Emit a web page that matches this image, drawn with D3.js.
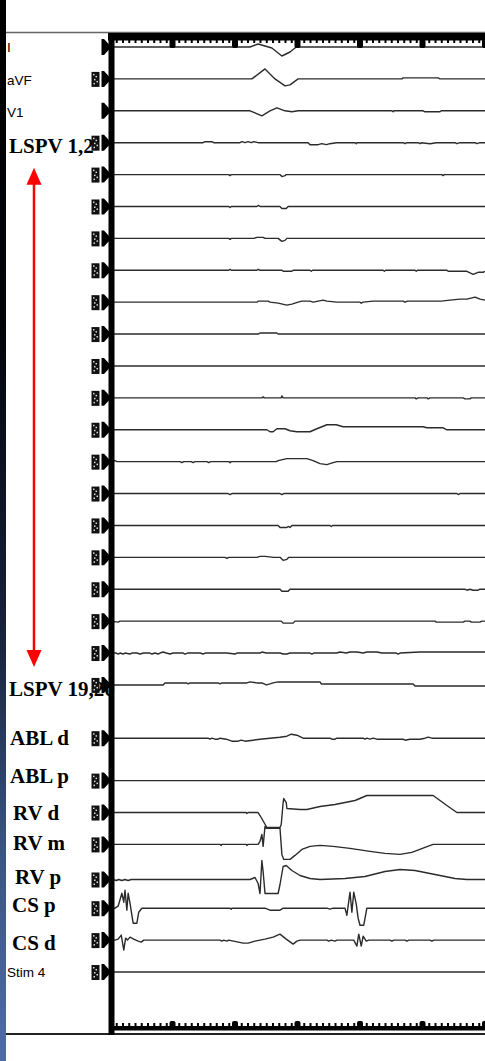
<!DOCTYPE html>
<html>
<head>
<meta charset="utf-8">
<script src="https://cdn.jsdelivr.net/npm/d3@7"></script>
<style>
  body { margin: 0; background: #fff; }
  svg { display: block; }
</style>
</head>
<body>
<div id="chart"></div>
<script>
// ---- data: each trace is [time ms, deflection] pairs ----
const traceI = [[0,0],[224,0],[237,3],[248,1],[259,-1],[275,-9],[288,-5],[298,0],[600,0]];
const traceAVF = [[0,0],[227,0],[248,10],[264,0],[280,-7],[288,-6],[301,0],[467,0],[469,1],[525,1],[528,0],[600,0]];
const traceV1 = [[0,0],[224,0],[243,-5],[256,0],[267,3],[280,0],[291,-1],[301,0],[451,0],[453,-1],[454,0],[501,0],[504,-1],[528,-1],[530,0],[600,0]];

const lspv01 = [[0,0],[149,0],[152,1],[163,1],[166,0],[208,0],[211,1],[216,0],[221,1],[226,0],[230,1],[237,0],[317,0],[320,-2],[333,-2],[339,-1],[346,-2],[352,-1],[362,0],[392,0],[394,-1],[395,0],[469,0],[472,-1],[475,0],[493,0],[496,-1],[498,0],[512,-1],[522,0],[552,0],[555,-1],[560,0],[584,0],[587,-1],[592,0],[600,0]];
const lspv02 = [[0,0],[190,0],[192,-1],[194,0],[272,0],[275,-2],[280,-1],[282,0],[531,0],[533,-1],[535,0],[600,0]];
const lspv03 = [[0,0],[190,0],[192,-1],[194,0],[235,0],[238,1],[240,0],[272,0],[275,-2],[282,-2],[285,0],[600,0]];
const lspv04 = [[0,0],[190,0],[192,-1],[194,0],[230,0],[235,1],[245,1],[248,0],[269,0],[275,-3],[280,-2],[283,0],[600,0]];
const lspv05 = [[0,0],[190,0],[192,1],[194,0],[235,0],[237,1],[240,0],[275,0],[277,-1],[291,-1],[293,0],[320,0],[322,-1],[324,0],[437,0],[439,-1],[441,0],[488,0],[490,-1],[492,0],[539,0],[541,-1],[571,-1],[581,-4],[589,-2],[597,-2],[600,-1]];
const lspv06 = [[0,0],[200,0],[235,0],[237,1],[253,1],[256,0],[269,-1],[283,-3],[291,-2],[301,0],[307,1],[320,1],[325,0],[333,1],[341,2],[347,1],[363,0],[400,0],[402,-1],[405,0],[421,1],[469,1],[472,0],[476,1],[507,1],[530,1],[544,2],[560,3],[571,3],[584,5],[592,3],[600,2]];
const lspv07 = [[0,0],[237,0],[240,1],[267,1],[269,0],[600,0]];
const lspv08 = [[0,0],[600,0]];
const lspv09 = [[0,0],[243,0],[245,1],[247,0],[274,0],[275,2],[277,0],[488,0],[490,-1],[493,0],[507,0],[509,-1],[512,0],[565,0],[568,-1],[576,-1],[578,0],[600,0]];
const lspv10 = [[0,0],[251,0],[256,-2],[261,-2],[267,1],[280,1],[288,-1],[299,-2],[320,-2],[331,1],[347,5],[362,5],[373,3],[384,3],[501,3],[507,2],[533,2],[539,0],[600,0]];
const lspv11 = [[0,0],[8,1],[11,0],[112,0],[115,-1],[118,0],[130,0],[133,-1],[136,0],[155,0],[158,-1],[161,0],[190,0],[192,-1],[194,0],[266,0],[269,1],[283,3],[315,3],[325,1],[336,-2],[347,-3],[357,-1],[363,0],[600,0]];
const lspv12 = [[0,0],[189,0],[192,-1],[195,0],[272,0],[275,-1],[278,0],[555,0],[557,-1],[560,0],[600,0]];
const lspv13 = [[0,0],[269,0],[272,-2],[283,-2],[285,-1],[288,-2],[291,0],[352,0],[354,-1],[356,0],[600,0]];
const lspv14 = [[0,0],[184,0],[187,-1],[190,0],[235,0],[240,1],[248,1],[262,0],[272,0],[277,-3],[283,-2],[286,0],[600,0]];
const lspv15 = [[0,0],[272,0],[275,-2],[285,-2],[288,0],[568,0],[571,-1],[576,0],[581,-1],[589,-1],[592,0],[600,0]];
const lspv16 = [[0,0],[13,-1],[16,0],[274,0],[277,-2],[293,-2],[296,0],[520,0],[522,-1],[565,-1],[568,0],[576,0],[578,-1],[592,-1],[595,0],[600,0]];
const lspv17 = [[0,0],[10,0],[13,-1],[16,0],[21,-1],[24,0],[32,-1],[35,0],[43,0],[48,-1],[54,0],[64,0],[67,-1],[72,0],[77,-1],[80,0],[85,1],[90,0],[96,-1],[101,0],[117,0],[120,-1],[124,0],[144,0],[149,-1],[152,0],[187,0],[200,-1],[203,0],[240,0],[243,1],[250,0],[272,0],[277,-1],[283,-1],[288,0],[320,0],[323,-1],[326,0],[363,0],[368,1],[378,0],[384,1],[395,1],[405,0],[411,1],[427,1],[435,0],[458,0],[461,-1],[464,0],[496,1],[600,1]];
const lspv18 = [[0,0],[85,0],[88,2],[123,2],[125,1],[128,2],[173,2],[176,1],[179,2],[219,2],[224,3],[235,2],[243,2],[250,0],[256,1],[261,2],[269,3],[336,3],[338,1],[485,1],[488,-1],[600,-1]];

const ablD = [[0,0],[157,0],[160,-1],[163,0],[168,-1],[173,-1],[176,0],[186,-1],[195,-3],[205,-3],[210,-2],[216,-3],[229,-2],[240,-1],[256,0],[272,1],[283,2],[290,4],[299,3],[309,0],[352,0],[355,-1],[360,-1],[363,0],[405,0],[408,-1],[411,0],[416,-1],[421,0],[427,-1],[443,-1],[469,-1],[472,-2],[480,-1],[496,-1],[504,0],[509,1],[515,0],[600,0]];
const ablP = [[0,0],[600,0]];
const rvD = [[0,0],[218,0],[219,-1],[221,0],[237,0],[240,-3],[251,-15],[272,-15],[274,-12],[277,10],[278,14],[282,10],[283,4],[304,3],[315,3],[336,6],[360,8],[376,10],[392,12],[411,17],[517,17],[528,12],[539,7],[555,0],[600,0]];
const rvM = [[0,0],[176,0],[178,-1],[179,0],[218,0],[219,-1],[221,0],[237,0],[240,3],[243,10],[245,-2],[248,18],[250,16],[272,16],[275,-10],[278,-15],[288,-15],[296,-11],[307,-5],[320,-2],[336,-1],[357,-2],[384,-4],[416,-7],[440,-9],[464,-10],[483,-8],[504,-3],[517,0],[600,0]];
const rvP = [[0,0],[5,0],[10,-1],[14,0],[19,-1],[24,0],[29,-1],[34,0],[224,0],[232,2],[237,-4],[240,-14],[243,19],[245,8],[248,-14],[269,-14],[272,-5],[277,13],[282,14],[291,9],[304,4],[320,1],[336,0],[376,1],[408,3],[440,8],[464,10],[488,9],[520,5],[552,1],[571,0],[600,0]];
const csP = [[0,0],[8,0],[13,2],[19,15],[22,6],[24,18],[27,-2],[29,15],[32,5],[35,-7],[37,-15],[43,-15],[46,-4],[51,0],[192,0],[194,-1],[195,0],[248,0],[256,-2],[272,-2],[277,0],[347,0],[352,-1],[357,0],[376,0],[379,-7],[384,16],[387,-4],[390,16],[394,4],[397,-10],[400,-17],[406,-17],[411,0],[600,0]];
const csD = [[0,0],[8,0],[13,1],[18,5],[22,-10],[25,2],[28,0],[32,3],[38,1],[45,-1],[50,-2],[54,0],[176,0],[179,-1],[182,0],[187,-1],[190,0],[213,-3],[221,-3],[232,-1],[248,1],[261,3],[272,6],[282,1],[293,-4],[299,-1],[304,0],[347,0],[350,-1],[354,0],[360,-1],[363,0],[390,0],[395,-6],[398,6],[402,-6],[405,4],[410,-1],[414,0],[448,0],[451,-1],[454,0],[472,0],[475,-1],[478,0],[512,0],[515,-1],[518,0],[600,0]];
const stim4 = [[0,0],[600,0]];

const traces = [traceI, traceAVF, traceV1,
  lspv01, lspv02, lspv03, lspv04, lspv05, lspv06, lspv07, lspv08, lspv09,
  lspv10, lspv11, lspv12, lspv13, lspv14, lspv15, lspv16, lspv17, lspv18,
  ablD, ablP, rvD, rvM, rvP, csP, csD, stim4];

// channel labels and the trace index they sit beside
const labelText = ["I", "aVF", "V1", "LSPV 1,2", "LSPV 19,20", "ABL d", "ABL p", "RV d", "RV m", "RV p", "CS p", "CS d", "Stim 4"];
const labelRow = [0, 1, 2, 3, 20, 21, 22, 23, 24, 25, 26, 27, 28];
const timeTicks = [100, 200, 300, 400, 500, 600];

// ---- layout ----
const W = 485, H = 1061;
// vertical slot of every trace (the bottom group is spaced a bit differently)
const rowSlot = d3.range(21).concat([21.67, 23, 24, 25, 26.1, 27, 28, 29]);
// label placement: [x, baseline offset from trace, bold?]
const labelPos = [
  [7, 5, false], [7, 6, false], [7, 6, false],
  [9, 10, true], [9, 11, true], [10, 7, true], [10, 2, true],
  [13, 7, true], [13, 6, true], [15, 4, true], [12, 4, true], [12, 10, true],
  [7, 5, false]
];
const noIcon = [0, 2];

const x = d3.scaleLinear().domain([0, 600]).range([110, 485]);
const yRow = d3.scaleLinear().domain([0, 29]).range([47, 972]);
const amp = d3.scaleLinear().domain([-1, 1]).range([1, -1]);

const svg = d3.select("#chart").append("svg")
  .attr("width", W).attr("height", H);

const defs = svg.append("defs");
const grad = defs.append("linearGradient").attr("id", "edge")
  .attr("x1", 0).attr("y1", 0).attr("x2", 0).attr("y2", 1);
[[0, "#000"], [0.3, "#02040a"], [0.6, "#17223c"], [0.8, "#3a5482"], [1, "#4f6ea0"]]
  .forEach(([o, c]) => grad.append("stop").attr("offset", o).attr("stop-color", c));

svg.append("rect").attr("width", W).attr("height", H).attr("fill", "#fff");
svg.append("rect").attr("width", 6).attr("height", H).attr("fill", "url(#edge)");

// frame lines
svg.append("line").attr("x1", 6).attr("x2", W).attr("y1", 32.5).attr("y2", 32.5)
  .attr("stroke", "#666").attr("stroke-width", 1.5);
svg.append("line").attr("x1", 6).attr("x2", W).attr("y1", 1034).attr("y2", 1034)
  .attr("stroke", "#222").attr("stroke-width", 2.2);

// traces
const line = d3.line().x((d) => x(d[0])).y((d) => amp(d[1]));
svg.append("g").selectAll("path")
  .data(traces)
  .join("path")
  .attr("transform", (d, i) => `translate(0,${yRow(rowSlot[i])})`)
  .attr("d", line)
  .attr("fill", "none")
  .attr("stroke", "#2b2b2b")
  .attr("stroke-width", 1.4)
  .attr("stroke-linejoin", "round");

// time bands top and bottom
svg.append("rect").attr("x", 108).attr("y", 33).attr("width", W - 108).attr("height", 7.5).attr("fill", "#000");
const topAxis = svg.append("g").attr("transform", "translate(0,40)")
  .call(d3.axisBottom(x).tickValues(d3.range(0, 601, 10)).tickSize(3).tickFormat(""));
topAxis.select(".domain").remove();
topAxis.selectAll("line").attr("stroke", "#000").attr("stroke-width", 2);
svg.append("g").selectAll("rect").data(timeTicks).join("rect")
  .attr("x", (d) => x(d) - 3).attr("y", 39).attr("width", 6).attr("height", 9)
  .attr("rx", 2).attr("fill", "#000");

svg.append("rect").attr("x", 114).attr("y", 1026).attr("width", W - 114).attr("height", 4.5).attr("fill", "#000");
const botAxis = svg.append("g").attr("transform", "translate(0,1026)")
  .call(d3.axisTop(x).tickValues(d3.range(0, 601, 10)).tickSize(3).tickFormat(""));
botAxis.select(".domain").remove();
botAxis.selectAll("line").attr("stroke", "#000").attr("stroke-width", 2);
svg.append("g").selectAll("rect").data(timeTicks).join("rect")
  .attr("x", (d) => x(d) - 3).attr("y", 1021).attr("width", 6).attr("height", 8)
  .attr("rx", 2).attr("fill", "#000");

// channel labels
svg.append("g").selectAll("text")
  .data(labelText)
  .join("text")
  .attr("x", (d, i) => labelPos[i][0])
  .attr("y", (d, i) => yRow(rowSlot[labelRow[i]]) + labelPos[i][1])
  .attr("font-family", (d, i) => labelPos[i][2] ? "'Liberation Serif', 'Times New Roman', serif" : "'Liberation Sans', Arial, sans-serif")
  .attr("font-weight", (d, i) => labelPos[i][2] ? "bold" : "normal")
  .attr("font-size", (d, i) => labelPos[i][2] ? 21 : 13.5)
  .attr("fill", "#000")
  .text((d) => d);

// channel markers (small icon + arrow flag)
const markers = svg.append("g").selectAll("g")
  .data(traces.map((d, i) => i))
  .join("g")
  .attr("transform", (i) => `translate(0,${yRow(rowSlot[i])})`);
markers.filter((i) => !noIcon.includes(i)).each(function () {
  const g = d3.select(this);
  g.append("rect").attr("x", 91.5).attr("y", -7).attr("width", 8).attr("height", 15).attr("fill", "#111");
  [[93, -5], [95.5, -3], [94, 0], [96.5, 2], [93.5, 4]].forEach(([a, b]) =>
    g.append("rect").attr("x", a).attr("y", b).attr("width", 1.5).attr("height", 1.5).attr("fill", "#ddd"));
});
markers.append("path")
  .attr("d", "M101.5,-8 L104,-8 L109.5,-2 L109.5,2 L104,8 L101.5,8 Z")
  .attr("fill", "#000");

// panel divider
svg.append("rect").attr("x", 108.5).attr("y", 33).attr("width", 6).attr("height", 1002).attr("fill", "#000");

// red double arrow spanning the LSPV channels
const aTop = yRow(rowSlot[3]) + 25, aBot = yRow(rowSlot[20]) - 18;
svg.append("line").attr("x1", 34).attr("x2", 34).attr("y1", aTop + 10).attr("y2", aBot - 10)
  .attr("stroke", "#ff0000").attr("stroke-width", 2.5);
svg.append("path").attr("d", `M34,${aTop} L26.5,${aTop + 17} L41.5,${aTop + 17} Z`).attr("fill", "#ff0000");
svg.append("path").attr("d", `M34,${aBot} L26.5,${aBot - 17} L41.5,${aBot - 17} Z`).attr("fill", "#ff0000");
</script>
</body>
</html>
